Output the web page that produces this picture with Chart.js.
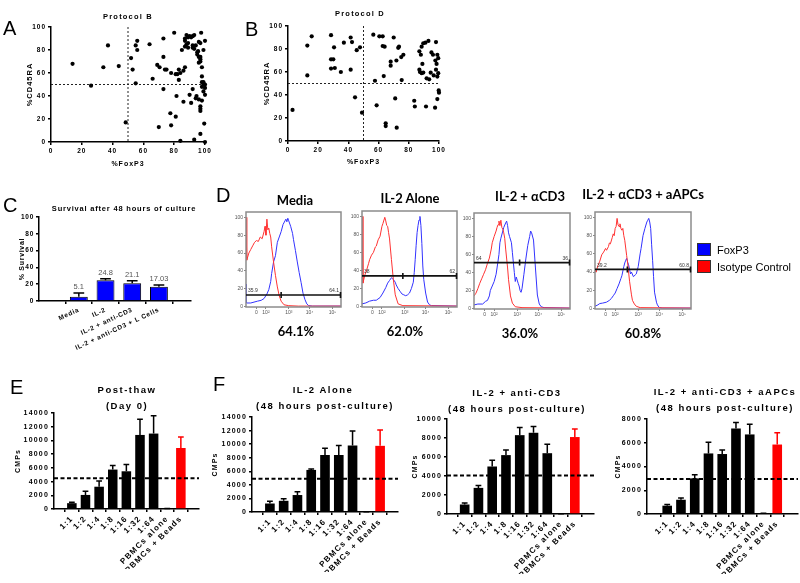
<!DOCTYPE html>
<html>
<head>
<meta charset="utf-8">
<script src="https://cdn.jsdelivr.net/npm/chart.js@4.4.1/dist/chart.umd.min.js"></script>
<style>
  body { margin: 0; background: #fff; }
  #stage { position: relative; width: 800px; height: 583px; overflow: hidden; font-family: "Liberation Sans", Arial, sans-serif; }
  #stage canvas { position: absolute; left: 0; top: 0; }
  .t { position: absolute; transform: translate(-50%, -50%); white-space: nowrap; line-height: 1; }
  .letter { position: absolute; font-size: 20px; line-height: 20px; }
  .prism { font-weight: bold; color: #000; }
  .flow { font-family: Lato, sans-serif; font-weight: bold; font-size: 13px; }
  .swatch { position: absolute; width: 14px; height: 13px; border: 1px solid #333; box-sizing: border-box; }
  .leg { position: absolute; font-size: 11px; line-height: 1; transform: translateY(-50%); }
</style>
</head>
<body>
<div id="stage"></div>
<script>
// ---- A / B: %FoxP3 vs %CD45RA
const protocolB = [
  [14,68],[26,49],[34,65],[37,84],[44,66],[48.5,17],[52,73],[53,63],[55,84],[56,88],[56,80],[55,51],
  [64,85],[66,55],[69,67],[70.5,65],[70,13],[73,90],[73,74],[73,46],[75,63],[77.5,25],[78,14.5],[78,60],
  [80,95],[81,22],[81.5,40],[82,59],[83,54],[83,63],[84,1],[85,80],[86,35],[84,60],[87,65],[87,88],
  [87,90],[88,93],[89,91],[90,92],[91,91],[92,92],[93,93],[89,82],[90,41],[91,34],[92,82],[92,46],
  [93,2],[94,84],[94.5,40],[95.5,79],[96,74],[96,69],[96,37],[97,27],[97,31],[97.5,95],[97,7],[97,86],
  [97,74],[97,72],[97,70],[98,65],[98,52],[99,50],[100,47],[99,44],[100,41],[98,57],[97,29],[96,87],
  [99,80],[99.5,16],[100,88],[100,0],[95,76],[93,81],[89,86],[88,85],[92,84],[94,38],[86,62],[74,63],
  [81,59],[87,83],[98,36],[98,48],[99,52],[100,50],[95,78]
];
const protocolD = [
  [3,27],[12.8,57],[12.8,83],[15.7,91],[28.5,92],[28.5,71],[30,71],[28.5,63],[31,63.5],[30.5,81.5],
  [35,60],[37,85.5],[41.5,90],[42.4,86],[41.5,62],[44.4,38],[45.5,79],[47.7,81.5],[49,24.6],[56.5,92.5],
  [57.6,52.4],[58.7,31],[60.5,91],[62.7,91],[62.7,82.6],[64,82],[63.4,56.5],[64.7,15.4],[64.7,13],
  [72,11.6],[68,65.5],[70,90],[71,37],[71.8,70],[73,81],[73.5,82],[75,73],[76.4,75],[75.3,53],[83.6,35],
  [84,30],[91.4,30],[97.4,29],[98.9,36.5],[100,42],[99.8,44],[87,78],[88,75],[88.5,82],[89.6,85],
  [91,85.5],[93,87],[98,86],[89,67],[87,62],[87.4,60],[88.5,59],[89.6,59.5],[91.8,54.5],[93.5,53.6],
  [94.5,59.4],[95,77],[96,75],[97.6,70],[98.9,75],[99.5,72],[98.4,67],[98,62],[99.5,59],[98.9,56],
  [96.5,57],[68,69]
];
const quadrantCut = [50, 50];

// ---- C: survival
const survivalCats = ["Media", "IL-2", "IL-2 + anti-CD3", "IL-2 + anti-CD3 + L Cells"];
const survivalVals = [5.1, 24.8, 21.1, 17.03];
const survivalErr = [9.5, 26.5, 24, 19];
const survivalLabels = ["5.1", "24.8", "21.1", "17.03"];

// ---- D: FoxP3 histograms, [channel, % of max]
const histTitles = ["Media", "IL-2 Alone", "IL-2 + αCD3", "IL-2 + αCD3 + aAPCs"];
const histPercent = ["64.1%", "62.0%", "36.0%", "60.8%"];
const gateLevel = [13, 34, 51, 43];
const gateSplit = [37, 43, 47.5, 33.7];
const gateLeft = ["35.9", "38", "64", "39.2"];
const gateRight = ["64.1", "62", "36", "60.8"];
const histTickPos = [11, 21, 45, 67, 91];
const histTickLab = ["0", "10²", "10³", "10⁴", "10⁵"];

const isoMedia = [[0,100],[0.8,52],[3,60],[5,64],[7,68],[9,72],[11,74],[13,73],[15,78],[17,76],[19,84],[20,90],[21,80],[22,98],[23,86],[24,88],[25,82],[26,78],[27,67],[29,50],[31,35],[33,22],[35,12],[37,6],[40,2],[45,1],[55,0.5],[100,0.5]];
const foxp3Media = [[0,25],[0.5,4],[5,4],[12,6],[16,7],[19,9],[22,14],[24,19],[26,28],[27,37],[29,50],[31,57],[33,72],[35,78],[37,84],[39,92],[41,96],[42,98],[43,95],[44,99],[45,96],[47,90],[49,82],[50,75],[52,63],[54,50],[56,38],[58,27],[60,15],[62,8],[64,3],[66,1],[70,0.5],[100,0.5]];
const isoIL2 = [[0,100],[1,26],[3,35],[5,41],[7,48],[8,52],[10,57],[12,60],[14,66],[15,67],[17,74],[19,78],[21,89],[22,92],[24,99],[25,95],[26,90],[27,89],[28,82],[29,75],[31,52],[33,30],[35,13],[38,3],[43,1],[100,0.5]];
const foxp3IL2 = [[0,3],[4,4],[8,6],[12,7],[15,7],[19,10],[22,15],[25,21],[27,26],[29,29],[31,32],[32,31],[33,30],[35,27],[36,24],[38,20],[40,17],[42,14],[44,13],[46,12],[48,13],[50,15],[52,20],[54,27],[55,38],[56,52],[57,68],[58,82],[59,90],[60,96],[61,100],[62,90],[63,70],[64,45],[65,30],[67,15],[69,5],[71,2],[73,1],[100,0.5]];
const isoCD3 = [[0,14],[2,17],[4,22],[6,28],[8,33],[10,38],[12,43],[14,50],[16,56],[18,66],[19,73],[21,80],[23,86],[24,90],[25,93],[26,97],[27,92],[28,98],[29,90],[30,88],[31,84],[32,78],[33,66],[35,45],[36,32],[38,14],[40,6],[43,2],[50,1],[100,0.5]];
const foxp3CD3 = [[0,4],[4,5],[9,5],[12,8],[14,9],[16,14],[17,20],[19,25],[21,30],[23,38],[24,45],[26,60],[27,73],[28,78],[30,86],[31,90],[33,95],[34,97],[35,92],[36,84],[37,80],[39,73],[40,62],[42,40],[43,30],[44,35],[46,28],[47,25],[48,20],[49,18],[50,22],[52,38],[54,55],[56,70],[58,80],[59,86],[60,84],[62,76],[64,45],[66,15],[68,5],[70,2],[73,1],[100,0.5]];
const isoAPC = [[0,42],[1,40],[3,47],[5,52],[7,59],[9,62],[11,66],[12,64],[14,68],[15,72],[16,71],[18,78],[19,82],[20,80],[21,88],[22,90],[23,99],[24,92],[25,90],[26,93],[27,88],[28,86],[29,88],[30,80],[31,75],[33,58],[34,50],[36,30],[38,15],[39,9],[41,5],[43,2.5],[47,1],[100,0.5]];
const foxp3APC = [[0,2.5],[3,4],[5,5.5],[8,6],[12,7],[15,9],[17,11],[19,14],[21,17],[23,22],[25,27],[27,33],[28,36],[30,46],[31,50],[32,53],[33,55],[34,51],[35,48],[37,38],[38,40],[40,35],[42,37],[43,38],[45,46],[47,60],[48,66],[50,80],[52,88],[54,95],[55,97],[56,99],[57,95],[58,88],[59,70],[60,53],[61,35],[62,18],[64,7],[65,4],[67,1],[70,0.5],[100,0.5]];

// ---- E / F: proliferation (CMPs)
const ratios = ["1:1", "1:2", "1:4", "1:8", "1:16", "1:32", "1:64", "PBMCs alone", "PBMCs + Beads"];
const cmpPostThaw = [850, 2050, 3250, 5750, 5500, 10800, 11000, 50, 8900];
const cmpPostThawErr = [1000, 2600, 4100, 6350, 6500, 13100, 13600, 80, 10500];
const cmpIL2 = [1250, 1650, 2500, 6200, 8400, 8400, 9800, 30, 9750];
const cmpIL2Err = [1600, 1950, 3000, 6350, 9400, 9800, 11950, 40, 12100];
const cmpCD3 = [1000, 2750, 5000, 6200, 8300, 8550, 6400, 20, 8100];
const cmpCD3Err = [1150, 3000, 5650, 6750, 9100, 9200, 7350, 30, 8950];
const cmpAPC = [700, 1200, 3000, 5100, 5050, 7200, 6700, 50, 5850];
const cmpAPCErr = [800, 1350, 3300, 6050, 5400, 7700, 7550, 60, 6850];
const cmpCutoff = [4500, 4900, 4050, 2950];

// -------------------------------------------------------------
const W = 800, H = 583;
const stage = document.getElementById("stage");

Chart.defaults.font.family = '"Liberation Sans", Arial, sans-serif';
Chart.defaults.color = "#000";
Chart.defaults.animation = false;
Chart.defaults.events = [];
Chart.defaults.plugins.legend.display = false;
Chart.defaults.plugins.tooltip.enabled = false;

function canvas() {
  const c = document.createElement("canvas");
  c.width = W;
  c.height = H;
  stage.appendChild(c);
  return c;
}

function text(str, x, y, cls, css) {
  const d = document.createElement("div");
  d.className = cls;
  d.textContent = str;
  d.style.left = x + "px";
  d.style.top = y + "px";
  Object.assign(d.style, css || {});
  stage.appendChild(d);
}

// put the plot area of a full-page canvas where the panel sits
function frame(area, yw, xh) {
  return {
    autoPadding: false,
    padding: { left: area.l - yw, top: area.t, right: W - area.r, bottom: H - area.b - xh },
  };
}

function prismAxis(size, opts) {
  const axis = {
    border: { color: "#000", width: 1.5 },
    grid: { drawOnChartArea: false, color: "#000", lineWidth: 1.5, tickLength: 3 },
    ticks: { color: "#000", padding: 2, font: { size, weight: "bold" }, callback: (v) => String(v) },
  };
  Object.assign(axis.ticks, opts.ticks || {});
  delete opts.ticks;
  return Object.assign(axis, opts);
}

function axisTitle(str, size) {
  return { display: true, text: str, padding: 0, font: { size, weight: "bold" } };
}

const spacing = (px) => ({
  id: "spacing",
  beforeDraw(chart) {
    chart.ctx.letterSpacing = px + "px";
  },
});

function errorBars(tops, colors) {
  return {
    id: "errorBars",
    afterDatasetsDraw(chart) {
      const { ctx, scales } = chart;
      chart.getDatasetMeta(0).data.forEach((bar, i) => {
        const top = scales.y.getPixelForValue(tops[i]);
        const half = bar.width * 0.3;
        ctx.save();
        ctx.strokeStyle = colors[i];
        ctx.lineWidth = 1.5;
        ctx.beginPath();
        ctx.moveTo(bar.x, bar.y);
        ctx.lineTo(bar.x, top);
        ctx.moveTo(bar.x - half, top);
        ctx.lineTo(bar.x + half, top);
        ctx.stroke();
        ctx.restore();
      });
    },
  };
}

function cutLine(value) {
  return {
    id: "cutLine",
    afterDatasetsDraw(chart) {
      const { ctx, chartArea, scales } = chart;
      const y = scales.y.getPixelForValue(value);
      ctx.save();
      ctx.strokeStyle = "#000";
      ctx.lineWidth = 2;
      ctx.setLineDash([4, 2.5]);
      ctx.beginPath();
      ctx.moveTo(chartArea.left, y);
      ctx.lineTo(chartArea.right, y);
      ctx.stroke();
      ctx.restore();
    },
  };
}

const quadrants = {
  id: "quadrants",
  beforeDatasetsDraw(chart) {
    const { ctx, chartArea: a, scales } = chart;
    const x = scales.x.getPixelForValue(quadrantCut[0]);
    const y = scales.y.getPixelForValue(quadrantCut[1]);
    ctx.save();
    ctx.strokeStyle = "#222";
    ctx.lineWidth = 1;
    ctx.setLineDash([2, 2]);
    ctx.beginPath();
    ctx.moveTo(x, a.top);
    ctx.lineTo(x, a.bottom);
    ctx.moveTo(a.left, y);
    ctx.lineTo(a.right, y);
    ctx.stroke();
    ctx.restore();
  },
};

// ---- A, B
function scatterPanel(points, area) {
  const yw = 25.2, xh = area.xh;
  new Chart(canvas(), {
    type: "scatter",
    data: {
      datasets: [{
        data: points.map(([x, y]) => ({ x, y })),
        pointRadius: 2.1,
        backgroundColor: "#000",
        borderWidth: 0,
        clip: false,
      }],
    },
    options: {
      responsive: false,
      layout: frame(area, yw, xh),
      scales: {
        x: prismAxis(6.5, { min: 0, max: 100, ticks: { stepSize: 20 }, title: axisTitle("%FoxP3", 7), afterFit: (s) => { s.height = xh; } }),
        y: prismAxis(6.5, { min: 0, max: 100, ticks: { stepSize: 20 }, title: axisTitle("%CD45RA", 7.5), afterFit: (s) => { s.width = yw; } }),
      },
    },
    plugins: [spacing(1), quadrants],
  });
}
scatterPanel(protocolB, { l: 51, r: 205, t: 27, b: 142, xh: 26.2 });
scatterPanel(protocolD, { l: 288, r: 439, t: 26, b: 141, xh: 25.2 });

// ---- C
(function () {
  const area = { l: 39, r: 191, t: 217, b: 301 };
  const yw = 21, xh = 60;
  const labels = {
    id: "survivalLabels",
    afterDatasetsDraw(chart) {
      const { ctx, scales } = chart;
      ctx.save();
      ctx.letterSpacing = "0px";
      ctx.font = '7.5px "Liberation Sans"';
      ctx.fillStyle = "#555";
      ctx.textAlign = "center";
      ctx.textBaseline = "bottom";
      chart.getDatasetMeta(0).data.forEach((bar, i) => {
        ctx.fillText(survivalLabels[i], bar.x, scales.y.getPixelForValue(survivalErr[i]) - 2);
      });
      ctx.restore();
    },
  };
  new Chart(canvas(), {
    type: "bar",
    data: {
      datasets: [{
        data: survivalVals.map((y, x) => ({ x, y })),
        backgroundColor: "#0000ff",
        borderColor: "#000",
        borderWidth: 1,
        barPercentage: 0.67,
        categoryPercentage: 1,
      }],
    },
    options: {
      responsive: false,
      layout: frame(area, yw, xh),
      scales: {
        x: prismAxis(6.5, {
          type: "linear", min: -0.78, max: 3.49,
          afterBuildTicks: (s) => { s.ticks = survivalCats.map((c, i) => ({ value: i })); },
          ticks: { autoSkip: false, minRotation: 25, maxRotation: 25, callback: (v) => survivalCats[v] },
          afterFit: (s) => { s.height = xh; },
        }),
        y: prismAxis(6.5, {
          min: 0, max: 100,
          afterBuildTicks: (s) => { s.ticks = [0, 20, 40, 60, 80, 100].map((v) => ({ value: v })); },
          ticks: { display: true, autoSkip: false },
          title: axisTitle("% Survival", 7),
          afterFit: (s) => { s.width = yw; },
        }),
      },
    },
    plugins: [spacing(0.7), errorBars(survivalErr, survivalVals.map(() => "#000")), labels],
  });
})();

// ---- D
const histSeries = [[isoMedia, foxp3Media], [isoIL2, foxp3IL2], [isoCD3, foxp3CD3], [isoAPC, foxp3APC]];
const histAreas = [
  { l: 246, r: 341, t: 212, b: 307 },
  { l: 362, r: 457, t: 211, b: 307 },
  { l: 474, r: 570, t: 213, b: 309 },
  { l: 595, r: 691, t: 212, b: 309 },
];
histAreas.forEach((area, i) => {
  const yw = 12, xh = 12;
  const decor = {
    id: "histDecor",
    afterDatasetsDraw(chart) {
      const { ctx, chartArea: a, scales } = chart;
      const gy = scales.y.getPixelForValue(gateLevel[i]);
      const sx = scales.x.getPixelForValue(gateSplit[i]);
      ctx.save();
      ctx.strokeStyle = "#8c8c8c";
      ctx.lineWidth = 1.5;
      ctx.strokeRect(a.left, a.top, a.right - a.left, a.bottom - a.top);
      ctx.strokeStyle = "#111";
      ctx.lineWidth = 1.6;
      ctx.beginPath();
      ctx.moveTo(a.left, gy);
      ctx.lineTo(a.right, gy);
      ctx.moveTo(sx, gy - 3);
      ctx.lineTo(sx, gy + 3);
      ctx.moveTo(a.right - 0.5, gy - 3);
      ctx.lineTo(a.right - 0.5, gy + 3);
      ctx.stroke();
      ctx.fillStyle = "#333";
      ctx.font = '5px "Liberation Sans"';
      ctx.textBaseline = "bottom";
      ctx.textAlign = "left";
      ctx.fillText(gateLeft[i], a.left + 2, gy - 1.5);
      ctx.textAlign = "right";
      ctx.fillText(gateRight[i], a.right - 2, gy - 1.5);
      ctx.restore();
    },
  };
  const small = { color: "#555", padding: 1, font: { size: 5 } };
  new Chart(canvas(), {
    type: "scatter",
    data: {
      datasets: [
        { data: histSeries[i][0].map(([x, y]) => ({ x, y })), showLine: true, borderColor: "rgb(255,50,50)", borderWidth: 1, pointRadius: 0 },
        { data: histSeries[i][1].map(([x, y]) => ({ x, y })), showLine: true, borderColor: "rgb(50,50,255)", borderWidth: 1, pointRadius: 0 },
      ],
    },
    options: {
      responsive: false,
      layout: frame(area, yw, xh),
      scales: {
        x: {
          min: 0, max: 100,
          border: { display: false },
          grid: { drawOnChartArea: false, color: "#888", tickLength: 2 },
          afterBuildTicks: (s) => { s.ticks = histTickPos.map((v) => ({ value: v })); },
          ticks: Object.assign({ autoSkip: false, maxRotation: 0, callback: (v, k) => histTickLab[k] }, small),
          afterFit: (s) => { s.height = xh; },
        },
        y: {
          min: -0.5, max: 106,
          border: { display: false },
          grid: { drawOnChartArea: false, color: "#888", tickLength: 2 },
          afterBuildTicks: (s) => { s.ticks = [0, 20, 40, 60, 80, 100].map((v) => ({ value: v })); },
          ticks: small,
          afterFit: (s) => { s.width = yw; },
        },
      },
    },
    plugins: [decor],
  });
});

// ---- E, F
function cmpPanel(values, errs, cut, max, area, yw, xRange) {
  const xh = 60;
  const colors = ratios.map((r) => (r === "PBMCs + Beads" ? "#ff0000" : "#000"));
  new Chart(canvas(), {
    type: "bar",
    data: {
      datasets: [{
        data: values.map((y, x) => ({ x, y })),
        backgroundColor: colors,
        barPercentage: 0.7,
        categoryPercentage: 1,
      }],
    },
    options: {
      responsive: false,
      layout: frame(area, yw, xh),
      scales: {
        x: prismAxis(8, {
          type: "linear", min: xRange[0], max: xRange[1],
          afterBuildTicks: (s) => { s.ticks = ratios.map((r, i) => ({ value: i })); },
          ticks: { autoSkip: false, minRotation: 45, maxRotation: 45, callback: (v) => ratios[v] },
          afterFit: (s) => { s.height = xh; },
        }),
        y: prismAxis(7, { min: 0, max, ticks: { stepSize: 2000 }, title: axisTitle("CMPs", 7), afterFit: (s) => { s.width = yw; } }),
      },
    },
    plugins: [spacing(1.2), errorBars(errs, colors), cutLine(cut)],
  });
}
cmpPanel(cmpPostThaw, cmpPostThawErr, cmpCutoff[0], 14000, { l: 54, r: 199, t: 413, b: 509 }, 40.2, [-0.72, 8.74]);
cmpPanel(cmpIL2, cmpIL2Err, cmpCutoff[1], 14000, { l: 252, r: 398, t: 417, b: 512 }, 41.2, [-0.71, 8.71]);
cmpPanel(cmpCD3, cmpCD3Err, cmpCutoff[2], 10000, { l: 447, r: 594, t: 419, b: 514 }, 36.2, [-0.69, 8.8]);
cmpPanel(cmpAPC, cmpAPCErr, cmpCutoff[3], 8000, { l: 647, r: 798, t: 419, b: 514 }, 33.2, [-0.86, 8.9]);

// ---- text
[["A", 3, 18], ["B", 245, 19], ["C", 3, 195], ["D", 216, 185], ["E", 10, 377], ["F", 213, 374]]
  .forEach(([s, x, y]) => text(s, x, y, "letter"));

const big = { fontSize: "9.5px", letterSpacing: "1.5px" };
text("Protocol B", 128, 17, "t prism", { fontSize: "7.5px", letterSpacing: "1.2px" });
text("Protocol D", 360, 14, "t prism", { fontSize: "7.5px", letterSpacing: "1.2px" });
text("Survival after 48 hours of culture", 124, 209, "t prism", { fontSize: "7.5px", letterSpacing: "0.8px" });
text("Post-thaw", 127, 390, "t prism", big);
text("(Day 0)", 127, 406, "t prism", big);
text("IL-2 Alone", 323, 390, "t prism", big);
text("(48 hours post-culture)", 325, 406, "t prism", big);
text("IL-2 + anti-CD3", 517, 393, "t prism", big);
text("(48 hours post-culture)", 517, 409, "t prism", big);
text("IL-2 + anti-CD3 + aAPCs", 725, 392, "t prism", big);
text("(48 hours post-culture)", 725, 408, "t prism", big);

const titleAt = [[295, 200], [410, 198], [530, 196], [643, 194]];
const pctAt = [[296, 331], [405, 331], [520, 333], [643, 333]];
histTitles.forEach((s, i) => text(s, titleAt[i][0], titleAt[i][1], "t flow"));
histPercent.forEach((s, i) => text(s, pctAt[i][0], pctAt[i][1], "t flow"));

const sw1 = document.createElement("div");
sw1.className = "swatch";
Object.assign(sw1.style, { left: "697px", top: "243px", background: "#0000ff" });
stage.appendChild(sw1);
const sw2 = document.createElement("div");
sw2.className = "swatch";
Object.assign(sw2.style, { left: "697px", top: "260px", background: "#ff0000" });
stage.appendChild(sw2);
text("FoxP3", 717, 249.5, "leg");
text("Isotype Control", 717, 267, "leg");
</script>
</body>
</html>
